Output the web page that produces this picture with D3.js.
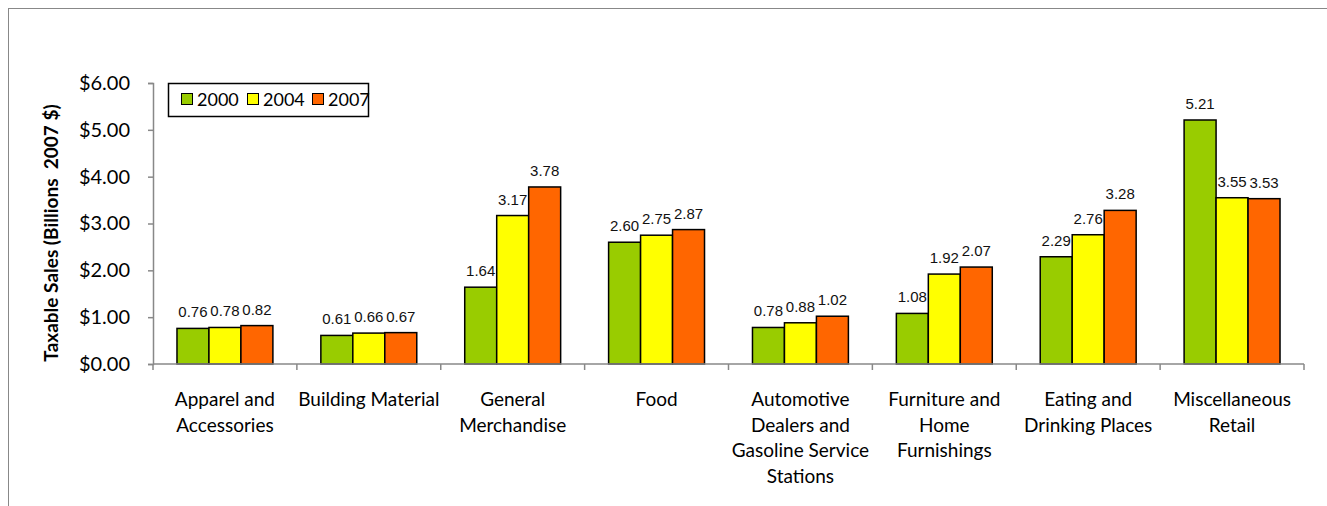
<!DOCTYPE html>
<html><head><meta charset="utf-8">
<script src="https://cdn.jsdelivr.net/npm/d3@7"></script>
<style>body{margin:0;background:#fff}svg{display:block}</style>
</head><body><svg id="c" width="1327" height="506"></svg>
<script>
const categories = ["Apparel and\nAccessories","Building Material","General\nMerchandise","Food","Automotive\nDealers and\nGasoline Service\nStations","Furniture and\nHome\nFurnishings","Eating and\nDrinking Places","Miscellaneous\nRetail"];
const seriesNames = ["2000","2004","2007"];
const values2000 = [0.76,0.61,1.64,2.60,0.78,1.08,2.29,5.21];
const values2004 = [0.78,0.66,3.17,2.75,0.88,1.92,2.76,3.55];
const values2007 = [0.82,0.67,3.78,2.87,1.02,2.07,3.28,3.53];
const colors = ["#99CC00","#FFFF00","#FF6600"];
const yTicks = [0,1,2,3,4,5,6];

const series = [values2000, values2004, values2007];
const svg = d3.select("#c");
const catFont = "Lato, 'Open Sans', sans-serif";

// outer chart border
svg.append("rect").attr("x",8.5).attr("y",8.5).attr("width",1340).attr("height",520)
  .attr("fill","none").attr("stroke","#888").attr("stroke-width",1);

const x0 = d3.scaleBand().domain(d3.range(categories.length)).range([153,1304]).paddingInner(0).paddingOuter(0);
const x1 = d3.scaleBand().domain(d3.range(3)).range([0,x0.bandwidth()]).paddingOuter(0.75);
const y = d3.scaleLinear().domain([0,6]).range([364,83]);

// y axis
const yAxis = svg.append("g").attr("transform","translate(153,0)")
  .call(d3.axisLeft(y).tickValues(yTicks).tickSize(5).tickFormat(d=>"$"+d3.format(".2f")(d)));
yAxis.select(".domain").attr("stroke","#888").attr("stroke-width",1.5);
yAxis.selectAll(".tick line").attr("stroke","#888").attr("stroke-width",1.5);
yAxis.selectAll("text").attr("font-family",catFont).attr("font-size",20).attr("fill","#000").attr("x",-23);

// bars
const groups = svg.append("g").selectAll("g").data(categories).join("g")
  .attr("transform",(d,i)=>`translate(${x0(i)},0)`);
groups.each(function(c,i){
  const g = d3.select(this);
  series.forEach((s,k)=>{
    g.append("rect").attr("x",x1(k)).attr("y",y(s[i])).attr("width",x1.bandwidth())
      .attr("height",y(0)-y(s[i])).attr("fill",colors[k]).attr("stroke","#000").attr("stroke-width",1.5);
    g.append("text").attr("x",x1(k)+x1.bandwidth()/2).attr("y",y(s[i])-11)
      .attr("text-anchor","middle").attr("font-family","'Liberation Sans', Arial, sans-serif")
      .attr("font-size",15).attr("fill","#111").text(d3.format(".2f")(s[i]));
  });
});

// x axis
const xAxis = svg.append("g").attr("transform","translate(0,364)");
xAxis.append("line").attr("x1",153).attr("x2",1304).attr("stroke","#888").attr("stroke-width",1.5);
d3.range(categories.length+1).forEach(i=>{
  const xx = i<categories.length ? x0(i) : x0.range()[1];
  xAxis.append("line").attr("x1",xx).attr("x2",xx).attr("y1",0).attr("y2",6).attr("stroke","#888").attr("stroke-width",1.5);
});
categories.forEach((c,i)=>{
  const t = xAxis.append("text").attr("text-anchor","middle").attr("font-family",catFont)
    .attr("font-size",19).attr("fill","#000");
  c.split("\n").forEach((ln,j)=>{
    t.append("tspan").attr("x",x0(i)+x0.bandwidth()/2).attr("y",42+j*25.5).text(ln);
  });
});

// y label
svg.append("text").attr("transform","translate(58,233) rotate(-90)").attr("text-anchor","middle")
  .attr("font-family",catFont).attr("font-weight","bold").attr("font-size",19)
  .attr("fill","#000").style("white-space","pre").text("Taxable Sales (Billions  2007 $)");

// legend
const lg = svg.append("g");
lg.append("rect").attr("x",168.5).attr("y",83.5).attr("width",200).attr("height",33)
  .attr("fill","#fff").attr("stroke","#000").attr("stroke-width",1.5);
const lx = [181, 247, 312];
seriesNames.forEach((n,k)=>{
  lg.append("rect").attr("x",lx[k]+0.5).attr("y",93.5).attr("width",11).attr("height",11)
    .attr("fill",colors[k]).attr("stroke","#000").attr("stroke-width",1);
  lg.append("text").attr("x",lx[k]+16).attr("y",106).attr("font-family",catFont).attr("font-size",18)
    .attr("fill","#000").text(n);
});
</script></body></html>
